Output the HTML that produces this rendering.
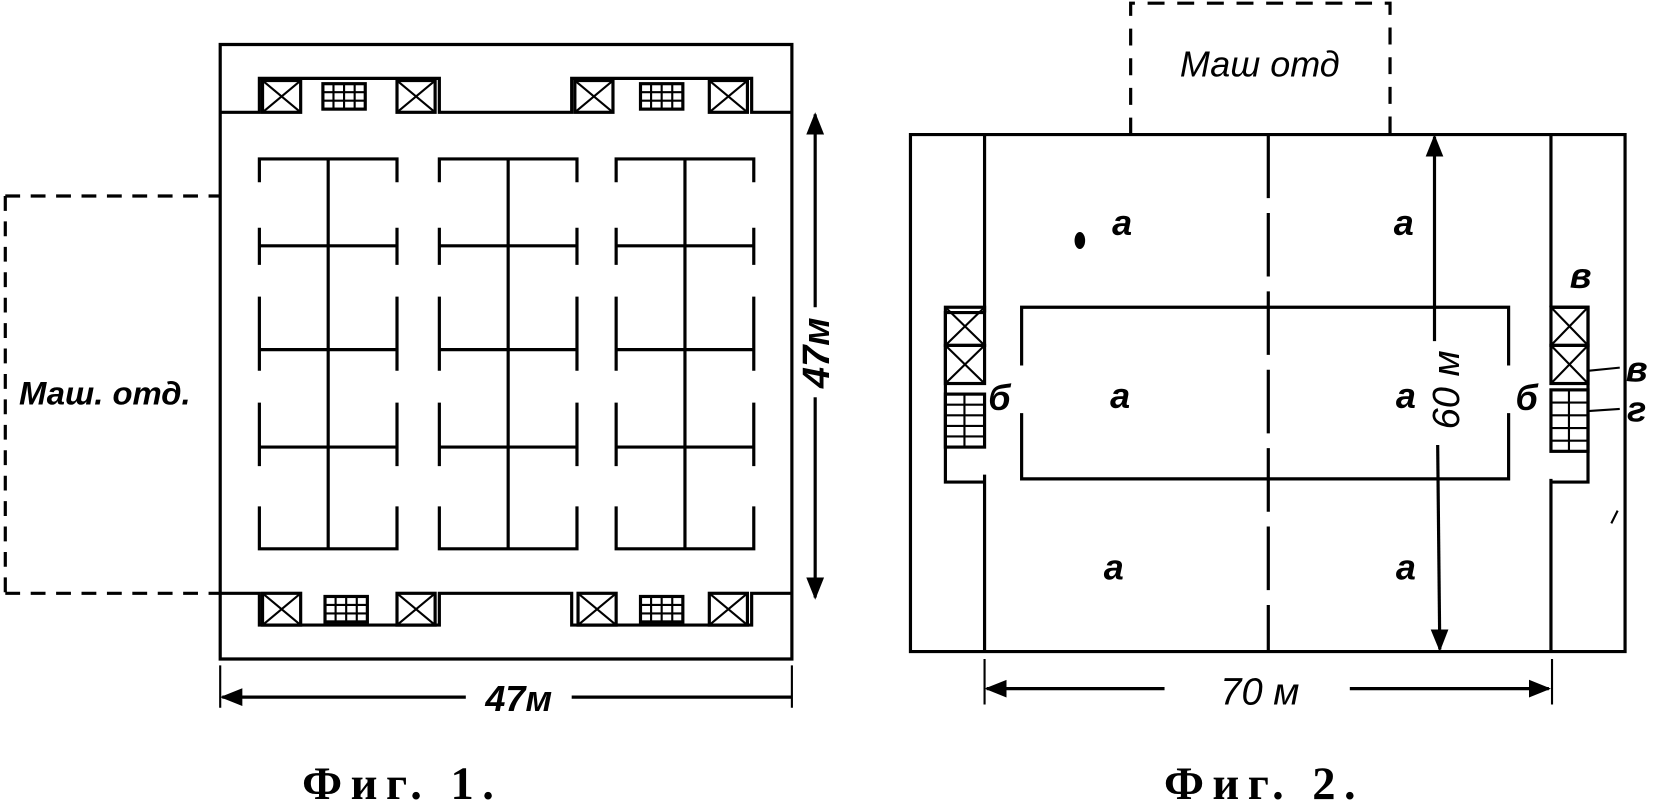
<!DOCTYPE html>
<html><head><meta charset="utf-8"><style>
html,body{margin:0;padding:0;background:#fff;}
svg{display:block;}
text{font-family:"Liberation Sans","DejaVu Sans",sans-serif;font-style:italic;font-weight:bold;fill:#000;}
.cap{font-family:"Liberation Serif","DejaVu Serif",serif;font-style:normal;font-weight:bold;letter-spacing:8px;}
</style></head><body>
<svg width="1660" height="802" viewBox="0 0 1568 757" preserveAspectRatio="none" xmlns="http://www.w3.org/2000/svg">
<defs>
<marker id="ar" viewBox="0 0 10 10" refX="9" refY="5" markerWidth="7" markerHeight="7" orient="auto-start-reverse"><path d="M0,1 L10,5 L0,9 z" fill="#000"/></marker>
<g id="xb"><rect x="0" y="0" width="36" height="30" fill="none" stroke="#000" stroke-width="3"/><path d="M0,0 L36,30 M36,0 L0,30" stroke="#000" stroke-width="2"/></g>
<g id="st"><rect x="0" y="0" width="40" height="24" fill="none" stroke="#000" stroke-width="3"/><path d="M0,8 H40 M0,16 H40 M10,0 V24 M20,0 V24 M30,0 V24" stroke="#000" stroke-width="2"/></g>
<g id="col" fill="none" stroke="#000" stroke-width="3">
<path d="M0,172 V150 H130 V172"/>
<path d="M65,150 V518"/>
<path d="M0,215 V250 M130,215 V250 M0,232 H130"/>
<path d="M0,280 V350 M130,280 V350 M0,330 H130"/>
<path d="M0,380 V440 M130,380 V440 M0,422 H130"/>
<path d="M0,478 V518 H130 V478"/>
</g>
</defs>
<g fill="none" stroke="#000" stroke-width="3">
<path d="M208,42 H748 V622 H208 Z"/>
<path d="M208,106 H245 V74 H415 V106 H540 V74 H710 V106 H748"/>
<path d="M208,560 H245 V590 H415 V560 H540 V590 H710 V560 H748"/>
</g>
<use href="#xb" x="248" y="76"/><use href="#st" x="305" y="79"/><use href="#xb" x="375" y="76"/>
<use href="#xb" x="543" y="76"/><use href="#st" x="605" y="79"/><use href="#xb" x="670" y="76"/>
<use href="#xb" x="248" y="560"/><use href="#st" x="307" y="563"/><use href="#xb" x="375" y="560"/>
<use href="#xb" x="546" y="560"/><use href="#st" x="605" y="563"/><use href="#xb" x="670" y="560"/>
<use href="#col" x="245" y="0"/><use href="#col" x="415" y="0"/><use href="#col" x="582" y="0"/>
<path d="M5,185 H208 M5,560 H208 M5,185 V560" fill="none" stroke="#000" stroke-width="3" stroke-dasharray="14,10"/>
<text x="18" y="382" font-size="31">Маш. отд.</text>
<line x1="770" y1="108" x2="770" y2="564" stroke="#000" stroke-width="3" marker-start="url(#ar)" marker-end="url(#ar)"/>
<rect x="756" y="290" width="30" height="85" fill="#fff"/>
<text transform="translate(783,333) rotate(-90)" font-size="36" text-anchor="middle">47м</text>
<line x1="210" y1="658" x2="440" y2="658" stroke="#000" stroke-width="3" marker-start="url(#ar)"/>
<line x1="540" y1="658" x2="748" y2="658" stroke="#000" stroke-width="3"/>
<path d="M208,628 V668 M748,628 V668" stroke="#000" stroke-width="2"/>
<text x="490" y="671" font-size="34" text-anchor="middle">47м</text>
<text class="cap" x="380" y="754" font-size="44" text-anchor="middle">Фиг. 1.</text>

<g fill="none" stroke="#000" stroke-width="3">
<path d="M860,127 H1535 V615 H860 Z"/>
<path d="M930,127 V295 M930,448 V615 M1465,127 V290 M1465,452 V615"/>
<path d="M930,295 H893 V455 H930 M1465,290 H1500 V455 H1465"/>
<path d="M965,345 V290 H1425 V345 M965,390 V452 H1425 V390"/>
<path d="M1198,127 V615" stroke-dasharray="60,14"/>
</g>
<g transform="translate(893,290)"><rect width="37" height="36" fill="none" stroke="#000" stroke-width="3"/><path d="M0,0 L37,36 M37,0 L0,36" stroke="#000" stroke-width="2"/>
<g transform="translate(0,36)"><rect width="37" height="36" fill="none" stroke="#000" stroke-width="3"/><path d="M0,0 L37,36 M37,0 L0,36" stroke="#000" stroke-width="2"/></g>
<g transform="translate(0,82)" stroke="#000" stroke-width="2" fill="none"><rect width="37" height="50" stroke-width="3"/><path d="M0,10 H37 M0,20 H37 M0,30 H37 M0,40 H37 M18,0 V50"/></g></g>
<g transform="translate(1465,290)"><rect width="35" height="36" fill="none" stroke="#000" stroke-width="3"/><path d="M0,0 L35,36 M35,0 L0,36" stroke="#000" stroke-width="2"/>
<g transform="translate(0,36)"><rect width="35" height="36" fill="none" stroke="#000" stroke-width="3"/><path d="M0,0 L35,36 M35,0 L0,36" stroke="#000" stroke-width="2"/></g>
<g transform="translate(0,78)" stroke="#000" stroke-width="2" fill="none"><rect width="35" height="58" stroke-width="3"/><path d="M0,12 H35 M0,24 H35 M0,36 H35 M0,48 H35 M17,0 V58"/></g></g>
<path d="M1500,350 L1530,347 M1500,388 L1530,386" stroke="#000" stroke-width="2"/>
<path d="M1068,127 V3 H1313 V127" fill="none" stroke="#000" stroke-width="3" stroke-dasharray="16,12"/>
<text x="1190" y="72" font-size="34" text-anchor="middle" style="font-weight:normal">Маш отд</text>
<line x1="1355" y1="129" x2="1355" y2="322" stroke="#000" stroke-width="3" marker-start="url(#ar)"/>
<line x1="1358" y1="420" x2="1360" y2="613" stroke="#000" stroke-width="3" marker-end="url(#ar)"/>
<text transform="translate(1378,368) rotate(-90)" font-size="36" text-anchor="middle" style="font-weight:normal">60 м</text>
<line x1="932" y1="650" x2="1100" y2="650" stroke="#000" stroke-width="3" marker-start="url(#ar)"/>
<line x1="1275" y1="650" x2="1463" y2="650" stroke="#000" stroke-width="3" marker-end="url(#ar)"/>
<path d="M930,622 V665 M1466,622 V665" stroke="#000" stroke-width="2"/>
<text x="1190" y="665" font-size="36" text-anchor="middle" style="font-weight:normal">70 м</text>
<ellipse cx="1020" cy="227" rx="5" ry="8" fill="#000"/>
<g font-size="34" text-anchor="middle" style="font-weight:normal">
<text x="1060" y="222">а</text><text x="1326" y="222">а</text>
<text x="1058" y="385">а</text><text x="1328" y="385">а</text>
<text x="1052" y="547">а</text><text x="1328" y="547">а</text>
<text x="944" y="387">б</text><text x="1442" y="387">б</text>
<text x="1493" y="272">в</text><text x="1546" y="360">в</text><text x="1546" y="398">г</text>
</g>
<path d="M1522,494 L1528,482" stroke="#000" stroke-width="2"/>
<text class="cap" x="1194" y="754" font-size="44" text-anchor="middle">Фиг. 2.</text>
</svg>
</body></html>
